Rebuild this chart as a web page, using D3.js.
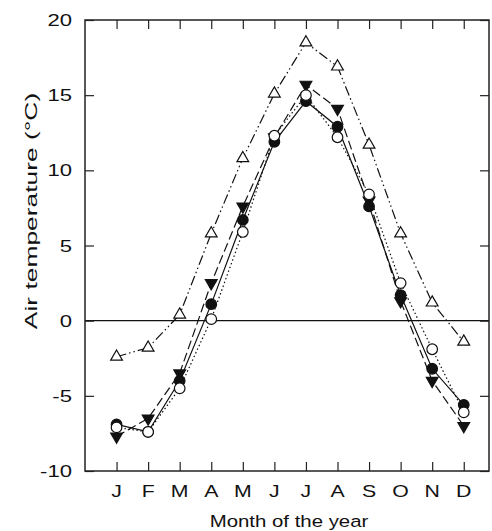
<!DOCTYPE html>
<html>
<head>
<meta charset="utf-8">
<script src="https://cdn.jsdelivr.net/npm/d3@7"></script>
<style>
  html, body { margin: 0; padding: 0; background: #fff; }
  svg { display: block; }
  text { font-family: "Liberation Sans", Arial, sans-serif; fill: #111; }
</style>
</head>
<body>
<script>
const months = ["J","F","M","A","M","J","J","A","S","O","N","D"];
const yTicks = [-10, -5, 0, 5, 10, 15, 20];
const filledCircle = [-6.9, -7.4, -4.0, 1.1, 6.7, 11.9, 14.6, 12.9, 7.6, 1.7, -3.2, -5.6];
const openCircle   = [-7.1, -7.4, -4.5, 0.1, 5.9, 12.3, 15.0, 12.2, 8.4, 2.5, -1.9, -6.1];
const downTriangle = [-7.7, -6.5, -3.5, 2.5, 7.6, 12.2, 15.7, 14.1, 8.0, 1.3, -4.0, -7.0];
const openTriangle = [-2.4, -1.8, 0.4, 5.8, 10.8, 15.1, 18.5, 16.9, 11.7, 5.8, 1.2, -1.4];

const W = 492, H = 531;
const L = 85, R = 489, T = 20, B = 471;

const svg = d3.select("body").append("svg").attr("width", W).attr("height", H);

const x = d3.scaleLinear().domain([-1, 11.8]).range([L, R]);
const y = d3.scaleLinear().domain([-10, 20]).range([B, T]);
const idx = d3.range(months.length);

// zero line
svg.append("line").attr("x1", L).attr("x2", R).attr("y1", y(0)).attr("y2", y(0))
  .attr("stroke", "#111").attr("stroke-width", 1.1);

// axes (ticks inward)
const tk = 9;
svg.append("g").attr("transform", `translate(${L},0)`)
  .call(d3.axisLeft(y).tickValues(yTicks).tickSize(-tk).tickFormat(""))
  .call(g => g.select(".domain").remove());
svg.append("g").attr("transform", `translate(${R},0)`)
  .call(d3.axisRight(y).tickValues(yTicks).tickSize(-tk).tickFormat(""))
  .call(g => g.select(".domain").remove());
svg.append("g").attr("transform", `translate(0,${B})`)
  .call(d3.axisBottom(x).tickValues(idx).tickSize(-tk).tickFormat(""))
  .call(g => g.select(".domain").remove());
svg.append("g").attr("transform", `translate(0,${T})`)
  .call(d3.axisTop(x).tickValues(idx).tickSize(-tk).tickFormat(""))
  .call(g => g.select(".domain").remove());
svg.selectAll(".tick line").attr("stroke", "#222").attr("stroke-width", 1.2);

// frame
svg.append("rect").attr("x", L).attr("y", T).attr("width", R - L).attr("height", B - T)
  .attr("fill", "none").attr("stroke", "#222").attr("stroke-width", 1.5);

// tick labels
svg.append("g").selectAll("text").data(yTicks).join("text")
  .attr("transform", d => `translate(72,${y(d)}) scale(1.3,1)`)
  .attr("text-anchor", "end").attr("dy", "0.36em")
  .attr("font-size", 17).text(d => d);
svg.append("g").selectAll("text").data(idx).join("text")
  .attr("transform", d => `translate(${x(d)},497) scale(1.25,1)`)
  .attr("text-anchor", "middle")
  .attr("font-size", 17).text(d => months[d]);

// axis titles
svg.append("text").attr("transform", "translate(289,527) scale(1.2,1)")
  .attr("text-anchor", "middle").attr("font-size", 17).text("Month of the year");
svg.append("text").attr("transform", "translate(37,211) rotate(-90) scale(1.6,1)")
  .attr("text-anchor", "middle").attr("font-size", 16.5).text("Air temperature (°C)");

// series
const line = d3.line().x((d, i) => x(i)).y(d => y(d));
const series = [
  {data: downTriangle, dash: "9,4", shape: "down", fill: "#111"},
  {data: filledCircle, dash: null, shape: "circle", fill: "#111"},
  {data: openCircle, dash: "1.5,2.5", shape: "circle", fill: "#fff"},
  {data: openTriangle, dash: "10,3,1.5,3,1.5,3", shape: "up", fill: "#fff"}
];
series.forEach(s => {
  svg.append("path").datum(s.data).attr("d", line)
    .attr("fill", "none").attr("stroke", "#111").attr("stroke-width", 1.2)
    .attr("stroke-dasharray", s.dash);
});
const triUp = d3.symbol().type(d3.symbolTriangle).size(60)();
series.forEach(s => {
  const g = svg.append("g");
  const pts = g.selectAll("g").data(s.data).join("g")
    .attr("transform", (d, i) => `translate(${x(i)},${y(d)})`);
  if (s.shape === "circle") {
    pts.append("circle").attr("r", 5.3).attr("fill", s.fill)
      .attr("stroke", "#111").attr("stroke-width", 1.2);
  } else {
    pts.append("path").attr("d", triUp)
      .attr("transform", s.shape === "down" ? "rotate(180)" : null)
      .attr("fill", s.fill).attr("stroke", "#111").attr("stroke-width", 1.2);
  }
});
</script>
</body>
</html>
